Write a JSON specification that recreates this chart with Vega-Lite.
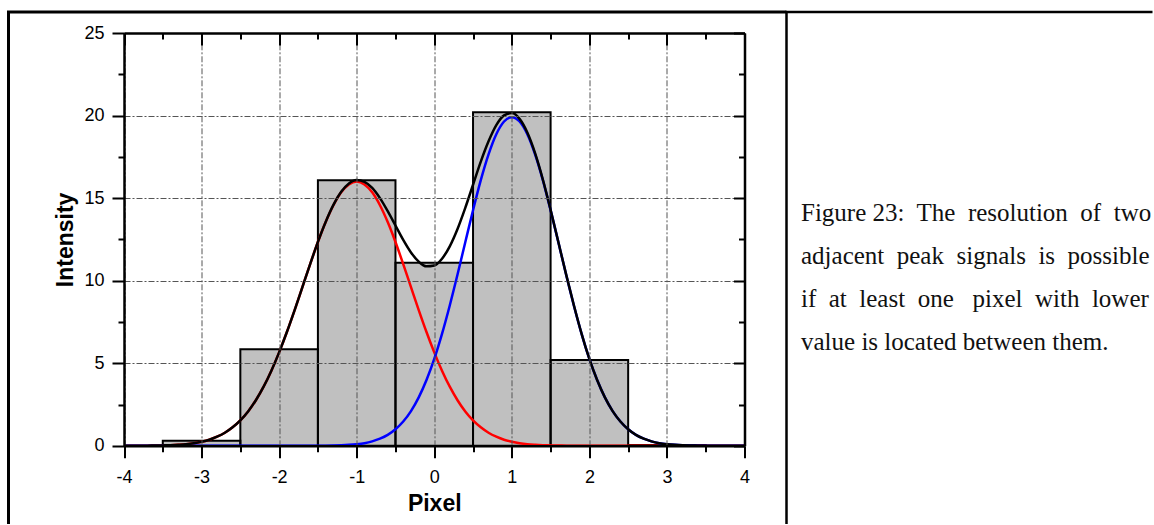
{
  "$schema": "https://vega.github.io/schema/vega-lite/v6.json",
  "autosize": {"type": "pad"},
  "padding": {"left": 6.5, "top": 10, "right": 0, "bottom": 0},
  "background": "white",
  "config": {"font": "Liberation Sans", "view": {"stroke": null}},
  "spacing": 0,
  "bounds": "flush",
  "datasets": {
    "bars": [
      {"start": -3.5, "end": -2.5, "intensity": 0.3},
      {"start": -2.5, "end": -1.5, "intensity": 5.85},
      {"start": -1.5, "end": -0.5, "intensity": 16.08},
      {"start": -0.5, "end": 0.5, "intensity": 11.09},
      {"start": 0.5, "end": 1.5, "intensity": 20.2},
      {"start": 1.5, "end": 2.5, "intensity": 5.2},
      {"start": 2.5, "end": 3.5, "intensity": 0.05}
    ],
    "curves": [
      {"x": -4.0, "red": 0.001, "blue": 0, "black": 0.001},
      {"x": -3.9, "red": 0.003, "blue": 0, "black": 0.003},
      {"x": -3.8, "red": 0.005, "blue": 0, "black": 0.005},
      {"x": -3.7, "red": 0.008, "blue": 0, "black": 0.008},
      {"x": -3.6, "red": 0.014, "blue": 0, "black": 0.014},
      {"x": -3.5, "red": 0.024, "blue": 0, "black": 0.024},
      {"x": -3.4, "red": 0.04, "blue": 0, "black": 0.04},
      {"x": -3.3, "red": 0.065, "blue": 0, "black": 0.065},
      {"x": -3.2, "red": 0.1, "blue": 0, "black": 0.1},
      {"x": -3.1, "red": 0.16, "blue": 0, "black": 0.16},
      {"x": -3.0, "red": 0.25, "blue": 0, "black": 0.25},
      {"x": -2.9, "red": 0.37, "blue": 0, "black": 0.37},
      {"x": -2.8, "red": 0.55, "blue": 0, "black": 0.55},
      {"x": -2.7, "red": 0.79, "blue": 0, "black": 0.79},
      {"x": -2.6, "red": 1.12, "blue": 0, "black": 1.12},
      {"x": -2.5, "red": 1.54, "blue": 0, "black": 1.54},
      {"x": -2.4, "red": 2.08, "blue": 0, "black": 2.08},
      {"x": -2.3, "red": 2.76, "blue": 0, "black": 2.76},
      {"x": -2.2, "red": 3.58, "blue": 0, "black": 3.58},
      {"x": -2.1, "red": 4.55, "blue": 0, "black": 4.55},
      {"x": -2.0, "red": 5.66, "blue": 0, "black": 5.66},
      {"x": -1.9, "red": 6.89, "blue": 0, "black": 6.89},
      {"x": -1.8, "red": 8.22, "blue": 0, "black": 8.22},
      {"x": -1.7, "red": 9.61, "blue": 0.001, "black": 9.61},
      {"x": -1.6, "red": 11.0, "blue": 0.002, "black": 11.0},
      {"x": -1.5, "red": 12.34, "blue": 0.005, "black": 12.35},
      {"x": -1.4, "red": 13.55, "blue": 0.009, "black": 13.56},
      {"x": -1.3, "red": 14.57, "blue": 0.018, "black": 14.59},
      {"x": -1.2, "red": 15.35, "blue": 0.032, "black": 15.38},
      {"x": -1.1, "red": 15.83, "blue": 0.057, "black": 15.89},
      {"x": -1.0, "red": 16.0, "blue": 0.097, "black": 16.1},
      {"x": -0.9, "red": 15.83, "blue": 0.16, "black": 15.99},
      {"x": -0.8, "red": 15.35, "blue": 0.27, "black": 15.62},
      {"x": -0.7, "red": 14.57, "blue": 0.43, "black": 15.0},
      {"x": -0.6, "red": 13.55, "blue": 0.66, "black": 14.21},
      {"x": -0.5, "red": 12.34, "blue": 1.0, "black": 13.34},
      {"x": -0.4, "red": 11.0, "blue": 1.47, "black": 12.47},
      {"x": -0.3, "red": 9.61, "blue": 2.1, "black": 11.71},
      {"x": -0.2, "red": 8.22, "blue": 2.93, "black": 11.15},
      {"x": -0.1, "red": 6.89, "blue": 3.98, "black": 10.87},
      {"x": 0.0, "red": 5.66, "blue": 5.26, "black": 10.92},
      {"x": 0.1, "red": 4.55, "blue": 6.78, "black": 11.33},
      {"x": 0.2, "red": 3.58, "blue": 8.5, "black": 12.08},
      {"x": 0.3, "red": 2.76, "blue": 10.37, "black": 13.13},
      {"x": 0.4, "red": 2.08, "blue": 12.33, "black": 14.41},
      {"x": 0.5, "red": 1.54, "blue": 14.27, "black": 15.81},
      {"x": 0.6, "red": 1.12, "blue": 16.09, "black": 17.21},
      {"x": 0.7, "red": 0.79, "blue": 17.65, "black": 18.44},
      {"x": 0.8, "red": 0.55, "blue": 18.87, "black": 19.42},
      {"x": 0.9, "red": 0.37, "blue": 19.64, "black": 20.01},
      {"x": 1.0, "red": 0.25, "blue": 19.9, "black": 20.15},
      {"x": 1.1, "red": 0.16, "blue": 19.64, "black": 19.8},
      {"x": 1.2, "red": 0.1, "blue": 18.87, "black": 18.97},
      {"x": 1.3, "red": 0.065, "blue": 17.65, "black": 17.72},
      {"x": 1.4, "red": 0.04, "blue": 16.09, "black": 16.13},
      {"x": 1.5, "red": 0.024, "blue": 14.27, "black": 14.29},
      {"x": 1.6, "red": 0.014, "blue": 12.33, "black": 12.34},
      {"x": 1.7, "red": 0.008, "blue": 10.37, "black": 10.38},
      {"x": 1.8, "red": 0.005, "blue": 8.5, "black": 8.51},
      {"x": 1.9, "red": 0.003, "blue": 6.78, "black": 6.78},
      {"x": 2.0, "red": 0.001, "blue": 5.26, "black": 5.26},
      {"x": 2.1, "red": 0, "blue": 3.98, "black": 3.98},
      {"x": 2.2, "red": 0, "blue": 2.93, "black": 2.93},
      {"x": 2.3, "red": 0, "blue": 2.1, "black": 2.1},
      {"x": 2.4, "red": 0, "blue": 1.47, "black": 1.47},
      {"x": 2.5, "red": 0, "blue": 1.0, "black": 1.0},
      {"x": 2.6, "red": 0, "blue": 0.66, "black": 0.66},
      {"x": 2.7, "red": 0, "blue": 0.43, "black": 0.43},
      {"x": 2.8, "red": 0, "blue": 0.27, "black": 0.27},
      {"x": 2.9, "red": 0, "blue": 0.16, "black": 0.16},
      {"x": 3.0, "red": 0, "blue": 0.097, "black": 0.097},
      {"x": 3.1, "red": 0, "blue": 0.057, "black": 0.057},
      {"x": 3.2, "red": 0, "blue": 0.032, "black": 0.032},
      {"x": 3.3, "red": 0, "blue": 0.018, "black": 0.018},
      {"x": 3.4, "red": 0, "blue": 0.009, "black": 0.009},
      {"x": 3.5, "red": 0, "blue": 0.005, "black": 0.005},
      {"x": 3.6, "red": 0, "blue": 0.002, "black": 0.002},
      {"x": 3.7, "red": 0, "blue": 0.001, "black": 0.001},
      {"x": 3.8, "red": 0, "blue": 0, "black": 0},
      {"x": 3.9, "red": 0, "blue": 0, "black": 0},
      {"x": 4.0, "red": 0, "blue": 0, "black": 0}
    ]
  },
  "hconcat": [
    {
      "width": 778,
      "height": 512,
      "view": {"stroke": "black", "strokeWidth": 3, "strokeDash": [778, 1290, 512]},
      "resolve": {"axis": {"x": "independent", "y": "independent"}},
      "layer": [
        {
          "data": {"name": "bars"},
          "mark": {"type": "rect", "fill": "black", "fillOpacity": 0.247, "stroke": "black", "strokeWidth": 2, "strokeOpacity": 1},
          "encoding": {
            "x": {"field": "start", "type": "quantitative",
              "scale": {"domain": [-4, 4], "range": [115.5, 736], "nice": false, "zero": false},
              "axis": {"orient": "bottom", "offset": -78.2, "values": [-4, -3, -2, -1, 0, 1, 2, 3, 4],
                "labelExpr": "'' + datum.value", "title": "Pixel", "titleFontSize": 23, "titleFontWeight": "bold",
                "titleColor": "black", "titlePadding": 6, "labelFontSize": 18, "labelColor": "black", "labelPadding": 11,
                "tickSize": 12, "tickWidth": 2, "tickColor": "black", "domainColor": "black", "domainWidth": 2.5,
                "grid": false, "labelFlush": false, "labelOverlap": false, "zindex": 1}},
            "x2": {"field": "end"},
            "y": {"field": "intensity", "type": "quantitative",
              "scale": {"domain": [0, 25], "range": [433.8, 21], "nice": false, "zero": false},
              "axis": {"orient": "left", "offset": -115.5, "values": [0, 5, 10, 15, 20, 25],
                "title": "Intensity", "titleFontSize": 23, "titleFontWeight": "bold", "titleColor": "black", "titlePadding": 6,
                "labelFontSize": 18, "labelColor": "black", "labelPadding": 8,
                "tickSize": 12, "tickWidth": 2, "tickColor": "black", "domainColor": "black", "domainWidth": 2.5,
                "grid": true, "gridColor": "#555", "gridDash": [6, 2, 2, 2], "gridWidth": 1,
                "labelFlush": false, "labelOverlap": false, "zindex": 1}},
            "y2": {"datum": 0}
          }
        },
        {
          "data": {"name": "curves"},
          "mark": {"type": "line", "color": "#ff0000", "strokeWidth": 2.5, "interpolate": "monotone"},
          "encoding": {
            "x": {"field": "x", "type": "quantitative",
              "scale": {"domain": [-4, 4], "range": [115.5, 736], "nice": false, "zero": false},
              "axis": {"orient": "top", "offset": -21, "values": [-4, -3, -2, -1, 0, 1, 2, 3, 4], "labels": false, "title": null,
                "tickSize": -12, "tickWidth": 2, "tickColor": "black", "domainColor": "black", "domainWidth": 2.5,
                "grid": true, "gridColor": "#555", "gridDash": [6, 2, 2, 2], "gridWidth": 1, "zindex": 1}},
            "y": {"field": "red", "type": "quantitative",
              "scale": {"domain": [0, 25], "range": [433.8, 21], "nice": false, "zero": false},
              "axis": {"orient": "right", "offset": -42, "values": [0, 5, 10, 15, 20, 25], "labels": false, "title": null,
                "tickSize": -11, "tickWidth": 2, "tickColor": "black", "domainColor": "black", "domainWidth": 2.5, "grid": false, "zindex": 1}}
          }
        },
        {
          "data": {"name": "curves"},
          "mark": {"type": "line", "color": "#0000ff", "strokeWidth": 2.5, "interpolate": "monotone"},
          "encoding": {
            "x": {"field": "x", "type": "quantitative",
              "scale": {"domain": [-4, 4], "range": [115.5, 736], "nice": false, "zero": false},
              "axis": {"orient": "bottom", "offset": -78.2, "values": [-3.5, -2.5, -1.5, -0.5, 0.5, 1.5, 2.5, 3.5], "labels": false, "title": null,
                "domain": false, "tickSize": 6, "tickWidth": 2, "tickColor": "black", "grid": false, "zindex": 1}},
            "y": {"field": "blue", "type": "quantitative",
              "scale": {"domain": [0, 25], "range": [433.8, 21], "nice": false, "zero": false},
              "axis": {"orient": "left", "offset": -115.5, "values": [2.5, 7.5, 12.5, 17.5, 22.5], "labels": false, "title": null,
                "domain": false, "tickSize": 6, "tickWidth": 2, "tickColor": "black", "grid": false, "zindex": 1}}
          }
        },
        {
          "data": {"name": "curves"},
          "mark": {"type": "line", "color": "black", "strokeWidth": 2.5, "interpolate": "monotone"},
          "encoding": {
            "x": {"field": "x", "type": "quantitative",
              "scale": {"domain": [-4, 4], "range": [115.5, 736], "nice": false, "zero": false},
              "axis": {"orient": "top", "offset": -21, "values": [-3.5, -2.5, -1.5, -0.5, 0.5, 1.5, 2.5, 3.5], "labels": false, "title": null,
                "domain": false, "tickSize": -6, "tickWidth": 2, "tickColor": "black", "grid": false, "zindex": 1}},
            "y": {"field": "black", "type": "quantitative",
              "scale": {"domain": [0, 25], "range": [433.8, 21], "nice": false, "zero": false},
              "axis": {"orient": "right", "offset": -42, "values": [2.5, 7.5, 12.5, 17.5, 22.5], "labels": false, "title": null,
                "domain": false, "tickSize": -6, "tickWidth": 2, "tickColor": "black", "grid": false, "zindex": 1}}
          }
        }
      ]
    },
    {
      "width": 366,
      "height": 512,
      "view": {"stroke": "black", "strokeWidth": 2.5, "strokeDash": [366, 878, 512]},
      "title": {
        "text": [
          "Figure 23:\u00a0 The\u00a0 resolution\u00a0 of\u00a0 two",
          "adjacent\u00a0 peak\u00a0 signals\u00a0 is\u00a0 possible",
          "if\u00a0 at\u00a0 least\u00a0 one\u00a0\u00a0 pixel\u00a0 with\u00a0 lower",
          "value is located between them."
        ],
        "anchor": "start", "frame": "group", "orient": "top",
        "font": "Liberation Serif", "fontSize": 25, "fontWeight": "normal", "color": "#111",
        "lineHeight": 43, "baseline": "top", "dx": 14.5, "dy": 343, "offset": 0
      },
      "data": {"values": [{}]},
      "mark": {"type": "text"},
      "encoding": {"text": {"value": ""}}
    }
  ]
}
